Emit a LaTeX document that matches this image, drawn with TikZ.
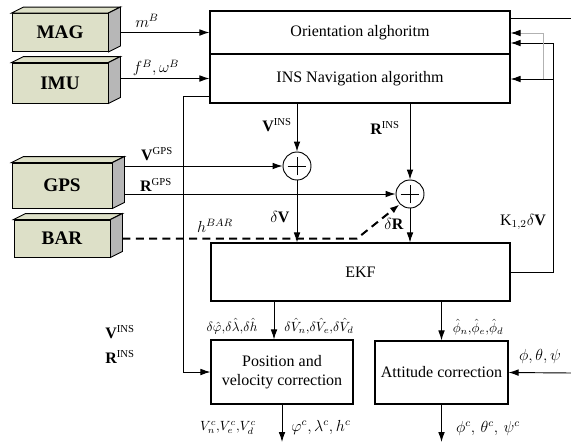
\documentclass[tikz,border=0pt]{standalone}
\usepackage{fontspec}
\setmainfont{Liberation Serif}
\usepackage{amsmath}
\usetikzlibrary{arrows.meta}
\usetikzlibrary{calc}
\definecolor{sensfront}{RGB}{221,224,200}
\definecolor{sensside}{RGB}{183,183,183}
\tikzset{arr/.style = {-{Latex[length=7.5pt,width=5pt]}}}
\tikzset{blk/.style = {draw, line width=0.8pt, inner sep=0, font=\large, align=center}}
\tikzset{sens/.style = {draw, fill=sensfront, inner sep=0, font=\Large\bfseries}}
\tikzset{sum/.style = {draw, circle, inner sep=0, minimum size=21pt,
    path picture={\draw (path picture bounding box.center) +(-7pt,0) -- +(7pt,0) +(0,-7pt) -- +(0,7pt);}}}
\tikzset{lbl/.style = {inner sep=0, font=\large}}
\tikzset{slbl/.style = {inner sep=0, font=\normalsize}}

\begin{document}
\begin{tikzpicture}[x=0.75pt, y=-0.75pt, line width=0.7pt]
    \useasboundingbox (0,0) rectangle (571,443);
    % blocks
    \node [blk, minimum width=225pt, minimum height=32.25pt] (orient) at (360,32.5) {Orientation alghoritm};
    \node [blk, minimum width=225pt, minimum height=36.75pt] (ins) at (360,78.5) {INS Navigation algorithm};
    \node [blk, minimum width=224.25pt, minimum height=43.5pt] (ekf) at (360.5,272) {EKF};
    \node [blk, minimum width=106.5pt, minimum height=48pt] (pos) at (282,372) {Position and\\velocity correction};
    \node [blk, minimum width=99.75pt, minimum height=47.25pt] (att) at (441.5,372.5) {Attitude correction};
    \node [sum] (sumV) at (297,166) {};
    \node [sum] (sumR) at (410,194) {};
    % sensors
    \node [sens, minimum width=72pt, minimum height=28.5pt] (mag) at (60,32.5) {MAG};
    \node [sens, minimum width=72pt, minimum height=30pt] (imu) at (60,83) {IMU};
    \node [sens, minimum width=75pt, minimum height=33.75pt] (gps) at (62,185.5) {GPS};
    \node [sens, minimum width=72pt, minimum height=27.75pt] (bar) at (62,238.5) {BAR};
    \foreach \s in {mag,imu,gps,bar} {
        \filldraw [fill=sensfront] (\s.north west) -- ++(12,-6) -- ($(\s.north east)+(12,-6)$) -- (\s.north east) -- cycle;
        \filldraw [fill=sensside] (\s.north east) -- ++(12,-6) -- ($(\s.south east)+(12,-6)$) -- (\s.south east) -- cycle;
        \coordinate (\s out) at ([xshift=9pt]\s.east);
    }
    % helper points
    \coordinate (topout) at (571,18);
    \coordinate (fbk) at (553,43);
    \coordinate (fbj) at (553,79);
    \coordinate (gry) at (543,33);
    \coordinate (gryj) at (543,79);
    \coordinate (tap) at (183,96);
    \coordinate (bend) at (357,238.5);
    \coordinate (dpos) at (274,301);
    \coordinate (attin) at (571,373);
    \coordinate (posend) at (282,442);
    \coordinate (attend) at (441.5,442);
    % connectors
    \draw [arr] (magout) -- (orient.west);
    \draw [arr] (imuout |- ins.west) -- (ins.west);
    \draw [arr] (gpsout |- sumV.west) -- (sumV.west);
    \draw [arr] (gpsout |- sumR.west) -- (sumR.west);
    \draw [arr, dashed, line width=1.5pt, dash pattern=on 6pt off 4pt] (barout) -- (bend) -- (sumR.225);
    \draw [arr] (sumV.north |- ins.south) -- (sumV.north);
    \draw [arr] (sumR.north |- ins.south) -- (sumR.north);
    \draw [arr] (sumV.south) -- (sumV.south |- ekf.north);
    \draw [arr] (sumR.south) -- (sumR.south |- ekf.north);
    \draw [arr] (ins.west |- tap) -- (tap) |- (pos.west);
    \draw [arr] (dpos) -- (dpos |- pos.north);
    \draw [arr] (att.north |- ekf.south) -- (att.north);
    \draw [arr] (pos.south) -- (posend);
    \draw [arr] (att.south) -- (attend);
    \draw [arr] (attin) -- (att.east);
    \draw (orient.east |- topout) -- (topout);
    \draw [arr] (ekf.east) -| (fbk) -- (orient.east |- fbk);
    \draw [arr] (fbj) -- (ins.east |- fbj);
    \draw [gray!60, -{Latex[length=7.5pt,width=5pt,color=black]}] (gryj) |- (orient.east |- gry);
    % labels
    \node [lbl] (lm) at (147,21) {$m^B$};
    \node [lbl] (lf) at (156,68) {$f^B{,}\,\omega^B$};
    \node [lbl] (lvins) at (277,125) {$\mathbf{V}^{\mathrm{INS}}$};
    \node [lbl] (lrins) at (385,128) {$\mathbf{R}^{\mathrm{INS}}$};
    \node [lbl] (lvgps) at (157,154) {$\mathbf{V}^{\mathrm{GPS}}$};
    \node [lbl] (lrgps) at (156,185) {$\mathbf{R}^{\mathrm{GPS}}$};
    \node [lbl] (ldv) at (280,217) {$\delta\mathbf{V}$};
    \node [lbl] (ldr) at (394,224) {$\delta\mathbf{R}$};
    \node [lbl] (lh) at (215,226) {$h^{BAR}$};
    \node [lbl] (lk) at (523,222) {$\mathrm{K}_{1,2}\delta\mathbf{V}$};
    \node [slbl] (ldp) at (232,326) {$\delta\hat{\varphi}{,}\delta\hat{\lambda}{,}\delta\hat{h}$};
    \node [slbl] (ldvn) at (319,326) {$\delta\hat{V}_n{,}\delta\hat{V}_e{,}\delta\hat{V}_d$};
    \node [slbl] (lvc) at (228,428) {$V_n^c{,}V_e^c{,}V_d^c$};
    \node [lbl] (lpc) at (321,427) {$\varphi^c,\lambda^c,h^c$};
    \node [slbl] (lphi) at (478,327) {$\hat{\phi}_n{,}\hat{\phi}_e{,}\hat{\phi}_d$};
    \node [lbl] (lang) at (540,356) {$\phi,\theta,\psi$};
    \node [lbl] (lac) at (488,428) {$\phi^c,\,\theta^c,\,\psi^c$};
    \node [lbl] (lvins2) at (120,332) {$\mathbf{V}^{\mathrm{INS}}$};
    \node [lbl] (lrins2) at (120,357) {$\mathbf{R}^{\mathrm{INS}}$};
\end{tikzpicture}
\end{document}
